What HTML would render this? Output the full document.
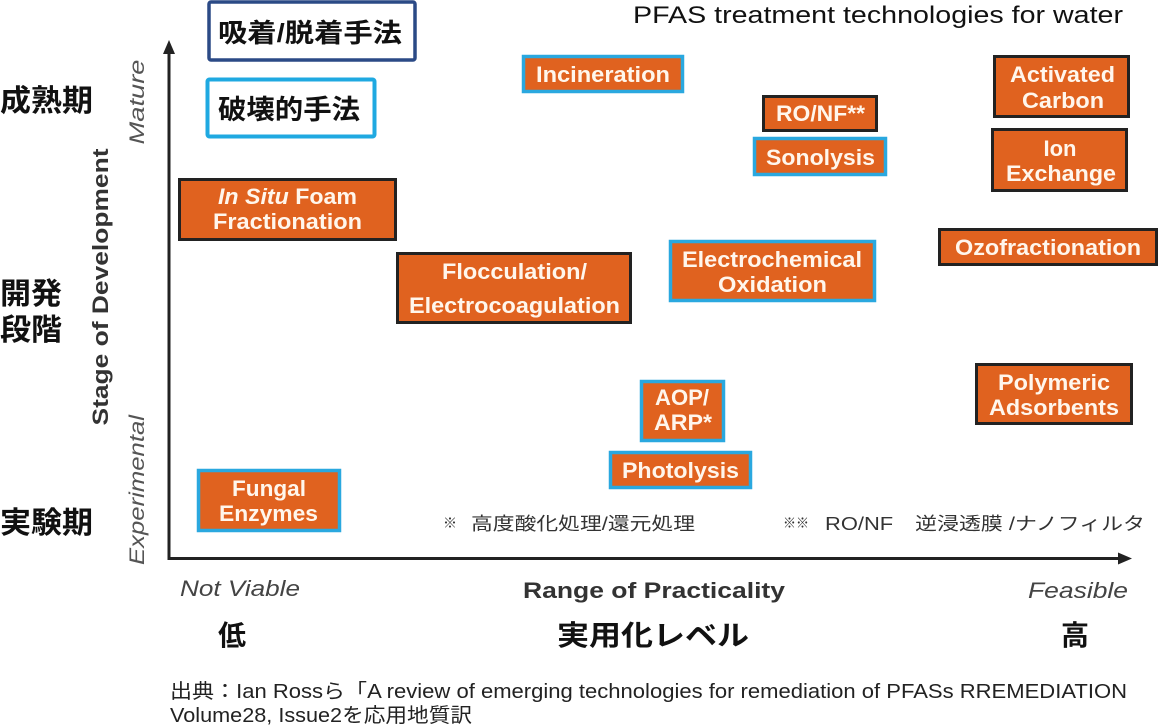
<!DOCTYPE html>
<html>
<head>
<meta charset="utf-8">
<style>
  html,body{margin:0;padding:0;background:#fff;}
  body{width:1160px;height:726px;overflow:hidden;}
  svg{display:block;}
  .jp{font-family:"Liberation Sans","Noto Sans CJK JP",sans-serif;}
  .bx{font-family:"Liberation Sans",sans-serif;font-weight:bold;font-size:22px;fill:#fff6ec;}
</style>
</head>
<body>
<svg width="1160" height="726" viewBox="0 0 1160 726" xmlns="http://www.w3.org/2000/svg">
  <rect x="0" y="0" width="1160" height="726" fill="#ffffff"/>

  <!-- Title -->
  <text x="633" y="23" font-family="Liberation Sans, sans-serif" font-size="24" fill="#111" textLength="490" lengthAdjust="spacingAndGlyphs">PFAS treatment technologies for water</text>

  <!-- Legend boxes -->
  <rect x="209" y="2" width="206" height="58" fill="#fff" stroke="#2b4a86" stroke-width="3.5" rx="2"/>
  <text x="218" y="42" class="jp" font-size="26" font-weight="bold" fill="#111" textLength="184" lengthAdjust="spacingAndGlyphs">吸着/脱着手法</text>
  <rect x="207.5" y="79.5" width="167" height="57" fill="#fff" stroke="#1fa9e1" stroke-width="4" rx="2"/>
  <text x="218" y="119" class="jp" font-size="27" font-weight="bold" fill="#111" textLength="142" lengthAdjust="spacingAndGlyphs">破壊的手法</text>

  <!-- Left JP labels -->
  <text x="0" y="111" class="jp" font-size="30" font-weight="bold" fill="#111" textLength="93" lengthAdjust="spacingAndGlyphs">成熟期</text>
  <text x="0" y="304" class="jp" font-size="30" font-weight="bold" fill="#111" textLength="62" lengthAdjust="spacingAndGlyphs">開発</text>
  <text x="0" y="340" class="jp" font-size="30" font-weight="bold" fill="#111" textLength="62" lengthAdjust="spacingAndGlyphs">段階</text>
  <text x="0" y="533" class="jp" font-size="30" font-weight="bold" fill="#111" textLength="93" lengthAdjust="spacingAndGlyphs">実験期</text>

  <!-- Rotated axis labels -->
  <text transform="translate(144,102) rotate(-90)" text-anchor="middle" font-family="Liberation Sans, sans-serif" font-style="italic" font-size="21" fill="#555" textLength="85" lengthAdjust="spacingAndGlyphs">Mature</text>
  <text transform="translate(108,287) rotate(-90)" text-anchor="middle" font-family="Liberation Sans, sans-serif" font-weight="bold" font-size="22" fill="#333" textLength="277" lengthAdjust="spacingAndGlyphs">Stage of Development</text>
  <text transform="translate(144,490) rotate(-90)" text-anchor="middle" font-family="Liberation Sans, sans-serif" font-style="italic" font-size="21" fill="#555" textLength="150" lengthAdjust="spacingAndGlyphs">Experimental</text>

  <!-- Axes -->
  <line x1="169" y1="559.5" x2="169" y2="52" stroke="#222" stroke-width="3"/>
  <polygon points="169,40 163,54 175,54" fill="#222"/>
  <line x1="167.5" y1="558.5" x2="1120" y2="558.5" stroke="#222" stroke-width="3"/>
  <polygon points="1132,558.5 1118,552.5 1118,564.5" fill="#222"/>

  <!-- X labels -->
  <text x="180" y="596" font-family="Liberation Sans, sans-serif" font-style="italic" font-size="22" fill="#444" textLength="120" lengthAdjust="spacingAndGlyphs">Not Viable</text>
  <text x="523" y="598" font-family="Liberation Sans, sans-serif" font-weight="bold" font-size="22" fill="#333" textLength="262" lengthAdjust="spacingAndGlyphs">Range of Practicality</text>
  <text x="1028" y="598" font-family="Liberation Sans, sans-serif" font-style="italic" font-size="22" fill="#444" textLength="100" lengthAdjust="spacingAndGlyphs">Feasible</text>

  <text x="218" y="645" class="jp" font-size="28" font-weight="bold" fill="#111">低</text>
  <text x="557" y="645" class="jp" font-size="28" font-weight="bold" fill="#111" textLength="192" lengthAdjust="spacingAndGlyphs">実用化レベル</text>
  <text x="1061" y="645" class="jp" font-size="28" font-weight="bold" fill="#111">高</text>

  <!-- Footer -->
  <text x="170" y="698" class="jp" font-size="20" fill="#222" textLength="957" lengthAdjust="spacingAndGlyphs">出典：Ian Rossら「A review of emerging technologies for remediation of PFASs RREMEDIATION</text>
  <text x="170" y="722" class="jp" font-size="20" fill="#222" textLength="302" lengthAdjust="spacingAndGlyphs">Volume28, Issue2を応用地質訳</text>

  <!-- Footnotes -->
  <text x="443" y="528" class="jp" font-size="14" fill="#333">※</text>
  <text x="471" y="530" class="jp" font-size="18" fill="#333" textLength="224" lengthAdjust="spacingAndGlyphs">高度酸化処理/還元処理</text>
  <text x="783" y="528" class="jp" font-size="14" fill="#333" textLength="26" lengthAdjust="spacingAndGlyphs">※※</text>
  <text x="825" y="530" class="jp" font-size="18" fill="#333" textLength="320" lengthAdjust="spacingAndGlyphs">RO/NF　逆浸透膜 /ナノフィルタ</text>

  <!-- Orange boxes: dark border -->
  <g fill="#e0621f" stroke="#222" stroke-width="3">
    <rect x="179.5" y="179.5" width="216" height="60"/>
    <rect x="763.5" y="96.5" width="113" height="34"/>
    <rect x="994.5" y="56.5" width="134" height="60"/>
    <rect x="992.5" y="129.5" width="134" height="61"/>
    <rect x="939.5" y="229.5" width="217" height="35"/>
    <rect x="397.5" y="253.5" width="233" height="69"/>
    <rect x="976.5" y="364.5" width="155" height="59"/>
  </g>
  <!-- Orange boxes: blue border -->
  <g fill="#e0621f" stroke="#2aa8df" stroke-width="3.5">
    <rect x="523.5" y="56.5" width="159" height="35"/>
    <rect x="754.5" y="138.5" width="131" height="36"/>
    <rect x="670.5" y="241.5" width="204" height="59"/>
    <rect x="641.5" y="381.5" width="82" height="59"/>
    <rect x="610.5" y="452.5" width="140" height="35"/>
    <rect x="198.5" y="470.5" width="141" height="60"/>
  </g>

  <!-- Box texts -->
  <text class="bx" x="218" y="204" textLength="139" lengthAdjust="spacingAndGlyphs"><tspan font-style="italic">In Situ</tspan> Foam</text>
  <text class="bx" x="213" y="229" textLength="149" lengthAdjust="spacingAndGlyphs">Fractionation</text>

  <text class="bx" x="536" y="82" textLength="134" lengthAdjust="spacingAndGlyphs">Incineration</text>
  <text class="bx" x="776" y="121" textLength="89" lengthAdjust="spacingAndGlyphs">RO/NF**</text>
  <text class="bx" x="766" y="165" textLength="109" lengthAdjust="spacingAndGlyphs">Sonolysis</text>

  <text class="bx" x="1010" y="82" textLength="105" lengthAdjust="spacingAndGlyphs">Activated</text>
  <text class="bx" x="1022" y="108" textLength="82" lengthAdjust="spacingAndGlyphs">Carbon</text>
  <text class="bx" x="1060" y="156" text-anchor="middle">Ion</text>
  <text class="bx" x="1006" y="181" textLength="110" lengthAdjust="spacingAndGlyphs">Exchange</text>

  <text class="bx" x="955" y="255" textLength="186" lengthAdjust="spacingAndGlyphs">Ozofractionation</text>

  <text class="bx" x="442" y="279" textLength="145" lengthAdjust="spacingAndGlyphs">Flocculation/</text>
  <text class="bx" x="409" y="313" textLength="211" lengthAdjust="spacingAndGlyphs">Electrocoagulation</text>

  <text class="bx" x="682" y="267" textLength="180" lengthAdjust="spacingAndGlyphs">Electrochemical</text>
  <text class="bx" x="718" y="292" textLength="109" lengthAdjust="spacingAndGlyphs">Oxidation</text>

  <text class="bx" x="998" y="390" textLength="112" lengthAdjust="spacingAndGlyphs">Polymeric</text>
  <text class="bx" x="989" y="415" textLength="130" lengthAdjust="spacingAndGlyphs">Adsorbents</text>

  <text class="bx" x="655" y="405" textLength="54" lengthAdjust="spacingAndGlyphs">AOP/</text>
  <text class="bx" x="654" y="430" textLength="58" lengthAdjust="spacingAndGlyphs">ARP*</text>

  <text class="bx" x="622" y="478" textLength="117" lengthAdjust="spacingAndGlyphs">Photolysis</text>

  <text class="bx" x="232" y="496" textLength="74" lengthAdjust="spacingAndGlyphs">Fungal</text>
  <text class="bx" x="219" y="521" textLength="99" lengthAdjust="spacingAndGlyphs">Enzymes</text>
</svg>
</body>
</html>
